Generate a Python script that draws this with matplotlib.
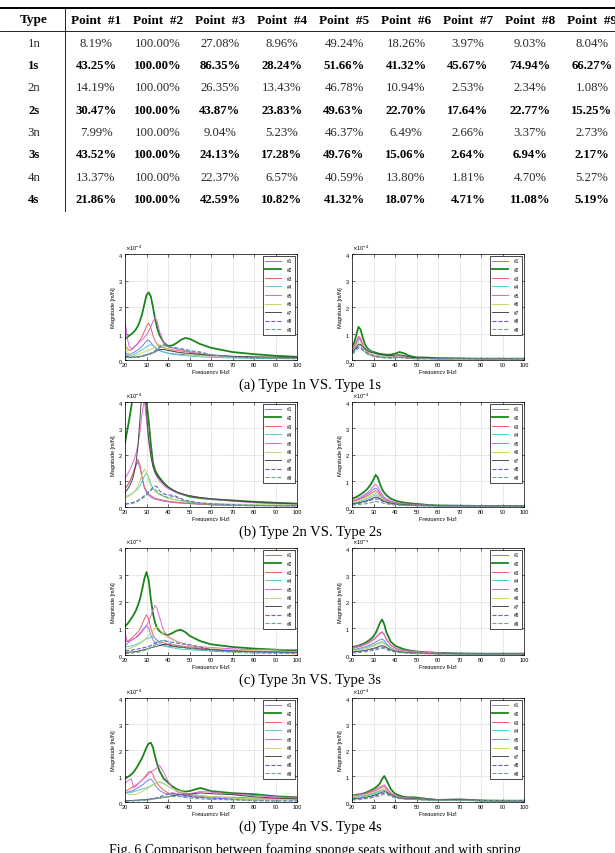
import matplotlib
matplotlib.use("Agg")
import matplotlib.pyplot as plt
from matplotlib.lines import Line2D
from matplotlib.patches import Rectangle
from matplotlib.ticker import ScalarFormatter, MultipleLocator
import numpy as np

W, H = 615, 854

# ---------------- table data ----------------
table_types = ["1n", "1s", "2n", "2s", "3n", "3s", "4n", "4s"]
table_header = ["Type"] + ["Point  #%d" % i for i in range(1, 10)]
table_values = [
    ["8.19%", "100.00%", "27.08%", "8.96%", "49.24%", "18.26%", "3.97%", "9.03%", "8.04%"],
    ["43.25%", "100.00%", "86.35%", "28.24%", "51.66%", "41.32%", "45.67%", "74.94%", "66.27%"],
    ["14.19%", "100.00%", "26.35%", "13.43%", "46.78%", "10.94%", "2.53%", "2.34%", "1.08%"],
    ["30.47%", "100.00%", "43.87%", "23.83%", "49.63%", "22.70%", "17.64%", "22.77%", "15.25%"],
    ["7.99%", "100.00%", "9.04%", "5.23%", "46.37%", "6.49%", "2.66%", "3.37%", "2.73%"],
    ["43.52%", "100.00%", "24.13%", "17.28%", "49.76%", "15.06%", "2.64%", "6.94%", "2.17%"],
    ["13.37%", "100.00%", "22.37%", "6.57%", "40.59%", "13.80%", "1.81%", "4.70%", "5.27%"],
    ["21.86%", "100.00%", "42.59%", "10.82%", "41.32%", "18.07%", "4.71%", "11.08%", "5.19%"],
]

# ---------------- FRF data (magnitude in 1e-4 m/N) ----------------
freq = [20, 21, 22, 23, 24, 25, 26, 27, 28, 29, 30, 31, 32, 33, 34, 35, 36,
        38, 40, 42, 44, 46, 48, 50, 55, 60, 70, 80, 90, 100]

mag_1n = [
    [0.30, 0.22, 0.20, 0.24, 0.28, 0.33, 0.38, 0.45, 0.52, 0.62, 0.72, 0.75, 0.66, 0.55, 0.46, 0.40, 0.36, 0.30, 0.26, 0.24, 0.22, 0.21, 0.20, 0.19, 0.17, 0.15, 0.12, 0.10, 0.09, 0.08],
    [0.80, 0.86, 0.92, 0.98, 1.05, 1.15, 1.28, 1.48, 1.75, 2.10, 2.45, 2.55, 2.40, 2.00, 1.55, 1.20, 0.95, 0.66, 0.53, 0.55, 0.64, 0.76, 0.83, 0.80, 0.60, 0.46, 0.30, 0.22, 0.16, 0.12],
    [0.60, 0.45, 0.36, 0.38, 0.45, 0.54, 0.64, 0.76, 0.90, 1.08, 1.28, 1.40, 1.22, 0.92, 0.72, 0.60, 0.52, 0.46, 0.42, 0.38, 0.36, 0.34, 0.32, 0.30, 0.23, 0.18, 0.13, 0.10, 0.08, 0.06],
    [0.25, 0.18, 0.15, 0.17, 0.20, 0.24, 0.29, 0.34, 0.39, 0.44, 0.50, 0.55, 0.58, 0.55, 0.48, 0.42, 0.38, 0.30, 0.25, 0.22, 0.20, 0.18, 0.16, 0.15, 0.12, 0.10, 0.08, 0.06, 0.05, 0.05],
    [1.55, 0.85, 0.50, 0.42, 0.48, 0.55, 0.62, 0.70, 0.76, 0.85, 0.95, 1.08, 1.25, 1.45, 1.60, 1.45, 1.10, 0.66, 0.50, 0.45, 0.42, 0.38, 0.35, 0.30, 0.22, 0.18, 0.13, 0.10, 0.08, 0.07],
    [0.70, 0.35, 0.20, 0.16, 0.15, 0.17, 0.20, 0.24, 0.28, 0.31, 0.35, 0.37, 0.40, 0.44, 0.50, 0.55, 0.58, 0.50, 0.40, 0.35, 0.30, 0.26, 0.23, 0.20, 0.17, 0.15, 0.12, 0.10, 0.09, 0.08],
    [0.15, 0.13, 0.11, 0.10, 0.10, 0.11, 0.12, 0.13, 0.15, 0.17, 0.19, 0.21, 0.24, 0.27, 0.31, 0.35, 0.39, 0.40, 0.36, 0.33, 0.30, 0.28, 0.26, 0.25, 0.21, 0.18, 0.14, 0.12, 0.11, 0.10],
    [0.10, 0.10, 0.10, 0.11, 0.11, 0.12, 0.12, 0.14, 0.16, 0.18, 0.20, 0.23, 0.26, 0.30, 0.35, 0.42, 0.50, 0.58, 0.50, 0.47, 0.45, 0.42, 0.40, 0.35, 0.30, 0.20, 0.12, 0.08, 0.07, 0.06],
    [0.10, 0.09, 0.09, 0.09, 0.10, 0.10, 0.10, 0.12, 0.13, 0.15, 0.18, 0.20, 0.23, 0.26, 0.30, 0.37, 0.45, 0.55, 0.50, 0.47, 0.45, 0.42, 0.38, 0.35, 0.27, 0.20, 0.10, 0.07, 0.06, 0.05],
]

mag_1s = [
    [0.35, 0.45, 0.60, 0.80, 0.75, 0.55, 0.40, 0.32, 0.26, 0.22, 0.18, 0.16, 0.14, 0.13, 0.12, 0.11, 0.10, 0.10, 0.12, 0.15, 0.12, 0.09, 0.07, 0.05, 0.05, 0.04, 0.04, 0.03, 0.03, 0.03],
    [0.50, 0.65, 0.95, 1.25, 1.15, 0.85, 0.60, 0.46, 0.38, 0.33, 0.30, 0.28, 0.25, 0.23, 0.22, 0.21, 0.20, 0.20, 0.24, 0.30, 0.26, 0.18, 0.13, 0.10, 0.09, 0.07, 0.06, 0.05, 0.05, 0.05],
    [0.40, 0.52, 0.70, 0.90, 0.82, 0.60, 0.42, 0.33, 0.27, 0.22, 0.19, 0.17, 0.15, 0.14, 0.13, 0.12, 0.11, 0.11, 0.13, 0.16, 0.13, 0.10, 0.08, 0.06, 0.07, 0.05, 0.05, 0.04, 0.04, 0.04],
    [0.30, 0.36, 0.45, 0.52, 0.55, 0.50, 0.45, 0.40, 0.35, 0.31, 0.27, 0.24, 0.21, 0.19, 0.17, 0.15, 0.13, 0.11, 0.10, 0.10, 0.09, 0.07, 0.06, 0.05, 0.05, 0.04, 0.04, 0.03, 0.03, 0.03],
    [0.38, 0.50, 0.68, 0.85, 0.78, 0.56, 0.40, 0.30, 0.24, 0.20, 0.17, 0.15, 0.13, 0.12, 0.11, 0.10, 0.10, 0.10, 0.12, 0.14, 0.12, 0.09, 0.07, 0.06, 0.06, 0.05, 0.05, 0.04, 0.04, 0.04],
    [0.33, 0.42, 0.55, 0.70, 0.66, 0.52, 0.40, 0.32, 0.26, 0.22, 0.19, 0.17, 0.15, 0.14, 0.13, 0.12, 0.11, 0.10, 0.10, 0.12, 0.10, 0.08, 0.06, 0.05, 0.05, 0.04, 0.04, 0.03, 0.03, 0.03],
    [0.30, 0.38, 0.48, 0.60, 0.58, 0.50, 0.42, 0.36, 0.32, 0.29, 0.27, 0.25, 0.23, 0.21, 0.20, 0.19, 0.18, 0.17, 0.18, 0.20, 0.17, 0.13, 0.10, 0.08, 0.09, 0.06, 0.06, 0.05, 0.05, 0.05],
    [0.25, 0.32, 0.42, 0.50, 0.48, 0.40, 0.32, 0.26, 0.21, 0.18, 0.15, 0.13, 0.12, 0.11, 0.10, 0.09, 0.09, 0.08, 0.09, 0.10, 0.09, 0.07, 0.06, 0.05, 0.06, 0.05, 0.06, 0.04, 0.04, 0.04],
    [0.22, 0.28, 0.36, 0.45, 0.43, 0.36, 0.29, 0.23, 0.19, 0.16, 0.14, 0.12, 0.11, 0.10, 0.09, 0.08, 0.08, 0.07, 0.08, 0.09, 0.08, 0.06, 0.05, 0.05, 0.05, 0.04, 0.05, 0.04, 0.04, 0.05],
]

mag_2n = [
    [0.70, 0.80, 0.92, 1.10, 1.32, 1.55, 1.72, 1.50, 1.05, 0.72, 0.55, 0.45, 0.38, 0.33, 0.30, 0.28, 0.26, 0.22, 0.20, 0.18, 0.16, 0.15, 0.14, 0.13, 0.10, 0.08, 0.06, 0.05, 0.05, 0.04],
    [2.45, 2.90, 3.35, 3.85, 4.50, 5.40, 6.30, 6.90, 6.40, 5.20, 4.00, 3.30, 2.40, 1.70, 1.40, 1.25, 1.12, 0.92, 0.76, 0.65, 0.56, 0.50, 0.45, 0.40, 0.34, 0.30, 0.25, 0.20, 0.16, 0.13],
    [0.72, 0.82, 0.95, 1.12, 1.35, 1.60, 1.82, 1.60, 1.12, 0.78, 0.60, 0.50, 0.43, 0.38, 0.34, 0.31, 0.29, 0.25, 0.22, 0.20, 0.18, 0.16, 0.15, 0.14, 0.11, 0.09, 0.07, 0.06, 0.05, 0.05],
    [0.40, 0.42, 0.45, 0.50, 0.55, 0.62, 0.70, 0.82, 0.98, 1.18, 1.30, 1.15, 0.90, 0.72, 0.60, 0.53, 0.48, 0.40, 0.34, 0.30, 0.26, 0.23, 0.21, 0.19, 0.15, 0.12, 0.08, 0.07, 0.06, 0.06],
    [1.10, 1.22, 1.38, 1.55, 1.75, 2.00, 2.35, 2.90, 3.60, 4.10, 3.30, 2.50, 1.95, 1.55, 1.30, 1.12, 1.00, 0.82, 0.70, 0.62, 0.56, 0.50, 0.46, 0.43, 0.36, 0.30, 0.22, 0.16, 0.12, 0.10],
    [0.35, 0.38, 0.42, 0.48, 0.56, 0.66, 0.80, 1.00, 1.25, 1.45, 1.30, 1.00, 0.80, 0.68, 0.60, 0.54, 0.50, 0.42, 0.35, 0.30, 0.26, 0.23, 0.21, 0.19, 0.16, 0.14, 0.11, 0.09, 0.08, 0.08],
    [0.55, 0.65, 0.78, 0.95, 1.20, 1.60, 2.30, 3.40, 4.60, 4.80, 3.60, 2.60, 1.95, 1.55, 1.30, 1.18, 1.08, 0.90, 0.76, 0.66, 0.58, 0.52, 0.47, 0.43, 0.36, 0.31, 0.24, 0.19, 0.15, 0.12],
    [0.12, 0.13, 0.14, 0.16, 0.18, 0.21, 0.25, 0.30, 0.36, 0.43, 0.50, 0.58, 0.66, 0.74, 0.80, 0.76, 0.62, 0.50, 0.46, 0.45, 0.40, 0.32, 0.26, 0.22, 0.15, 0.12, 0.08, 0.06, 0.05, 0.05],
    [0.10, 0.11, 0.12, 0.13, 0.15, 0.18, 0.22, 0.27, 0.32, 0.38, 0.45, 0.53, 0.62, 0.70, 0.68, 0.58, 0.50, 0.42, 0.36, 0.40, 0.36, 0.28, 0.22, 0.18, 0.12, 0.09, 0.06, 0.05, 0.05, 0.05],
]

mag_2s = [
    [0.22, 0.24, 0.27, 0.30, 0.34, 0.38, 0.43, 0.48, 0.54, 0.61, 0.68, 0.72, 0.66, 0.52, 0.40, 0.32, 0.27, 0.20, 0.16, 0.13, 0.11, 0.10, 0.09, 0.08, 0.06, 0.05, 0.04, 0.04, 0.03, 0.03],
    [0.32, 0.35, 0.38, 0.43, 0.48, 0.54, 0.60, 0.68, 0.78, 0.90, 1.05, 1.22, 1.12, 0.88, 0.68, 0.54, 0.45, 0.32, 0.25, 0.20, 0.17, 0.15, 0.13, 0.12, 0.08, 0.06, 0.05, 0.04, 0.04, 0.04],
    [0.20, 0.22, 0.24, 0.27, 0.30, 0.34, 0.38, 0.42, 0.47, 0.53, 0.58, 0.62, 0.56, 0.45, 0.35, 0.28, 0.24, 0.18, 0.15, 0.12, 0.10, 0.09, 0.08, 0.07, 0.06, 0.05, 0.04, 0.04, 0.03, 0.03],
    [0.15, 0.16, 0.18, 0.20, 0.22, 0.25, 0.28, 0.31, 0.35, 0.39, 0.43, 0.46, 0.42, 0.34, 0.27, 0.22, 0.19, 0.14, 0.11, 0.09, 0.08, 0.07, 0.06, 0.06, 0.05, 0.04, 0.03, 0.03, 0.03, 0.03],
    [0.25, 0.27, 0.30, 0.34, 0.38, 0.43, 0.48, 0.54, 0.61, 0.70, 0.80, 0.86, 0.78, 0.62, 0.48, 0.38, 0.32, 0.23, 0.18, 0.15, 0.12, 0.11, 0.10, 0.09, 0.07, 0.05, 0.04, 0.04, 0.03, 0.03],
    [0.18, 0.20, 0.22, 0.24, 0.27, 0.30, 0.33, 0.37, 0.41, 0.45, 0.50, 0.52, 0.48, 0.40, 0.32, 0.26, 0.22, 0.16, 0.13, 0.10, 0.09, 0.08, 0.07, 0.06, 0.05, 0.04, 0.04, 0.03, 0.03, 0.03],
    [0.12, 0.13, 0.14, 0.16, 0.18, 0.20, 0.22, 0.25, 0.28, 0.31, 0.35, 0.38, 0.36, 0.31, 0.26, 0.22, 0.19, 0.15, 0.12, 0.10, 0.09, 0.08, 0.07, 0.07, 0.06, 0.05, 0.05, 0.04, 0.04, 0.04],
    [0.10, 0.11, 0.12, 0.13, 0.15, 0.17, 0.19, 0.21, 0.24, 0.27, 0.29, 0.31, 0.30, 0.27, 0.23, 0.19, 0.16, 0.12, 0.10, 0.08, 0.07, 0.06, 0.06, 0.05, 0.05, 0.04, 0.04, 0.03, 0.03, 0.03],
    [0.07, 0.08, 0.08, 0.09, 0.10, 0.11, 0.12, 0.13, 0.15, 0.17, 0.19, 0.21, 0.20, 0.18, 0.16, 0.14, 0.12, 0.10, 0.08, 0.07, 0.06, 0.05, 0.05, 0.05, 0.04, 0.04, 0.03, 0.03, 0.03, 0.03],
]

mag_3n = [
    [0.35, 0.42, 0.50, 0.55, 0.60, 0.65, 0.70, 0.78, 0.88, 1.00, 1.10, 1.00, 0.76, 0.56, 0.46, 0.40, 0.37, 0.34, 0.32, 0.31, 0.30, 0.29, 0.28, 0.27, 0.23, 0.20, 0.15, 0.12, 0.11, 0.10],
    [1.07, 1.15, 1.25, 1.38, 1.50, 1.65, 1.85, 2.10, 2.45, 2.85, 3.10, 2.80, 2.10, 1.55, 1.20, 1.00, 0.90, 0.78, 0.75, 0.82, 0.91, 0.94, 0.86, 0.72, 0.52, 0.40, 0.30, 0.24, 0.20, 0.17],
    [0.50, 0.52, 0.56, 0.62, 0.70, 0.78, 0.86, 0.98, 1.15, 1.35, 1.50, 1.35, 1.00, 0.76, 0.62, 0.55, 0.50, 0.45, 0.40, 0.38, 0.36, 0.34, 0.32, 0.30, 0.26, 0.22, 0.18, 0.15, 0.13, 0.12],
    [0.30, 0.31, 0.32, 0.34, 0.36, 0.39, 0.43, 0.47, 0.51, 0.56, 0.60, 0.63, 0.66, 0.70, 0.62, 0.52, 0.45, 0.36, 0.30, 0.27, 0.24, 0.22, 0.21, 0.20, 0.17, 0.15, 0.12, 0.11, 0.10, 0.10],
    [0.85, 0.50, 0.52, 0.56, 0.60, 0.66, 0.74, 0.82, 0.93, 1.02, 1.10, 1.25, 1.45, 1.70, 1.85, 1.72, 1.42, 0.90, 0.70, 0.60, 0.52, 0.46, 0.41, 0.36, 0.31, 0.28, 0.23, 0.20, 0.20, 0.20],
    [0.20, 0.22, 0.24, 0.27, 0.30, 0.34, 0.38, 0.43, 0.49, 0.56, 0.64, 0.73, 0.83, 0.93, 1.00, 1.05, 0.97, 0.76, 0.65, 0.57, 0.50, 0.45, 0.40, 0.36, 0.30, 0.25, 0.18, 0.15, 0.13, 0.12],
    [0.10, 0.10, 0.11, 0.11, 0.12, 0.13, 0.14, 0.16, 0.18, 0.20, 0.22, 0.24, 0.27, 0.29, 0.31, 0.33, 0.35, 0.40, 0.38, 0.34, 0.31, 0.29, 0.27, 0.25, 0.22, 0.20, 0.15, 0.12, 0.11, 0.10],
    [0.15, 0.16, 0.17, 0.18, 0.20, 0.21, 0.22, 0.24, 0.26, 0.28, 0.30, 0.32, 0.35, 0.40, 0.45, 0.48, 0.50, 0.55, 0.50, 0.48, 0.45, 0.42, 0.40, 0.38, 0.30, 0.20, 0.15, 0.12, 0.10, 0.08],
    [0.05, 0.06, 0.06, 0.07, 0.08, 0.09, 0.10, 0.12, 0.14, 0.17, 0.20, 0.24, 0.28, 0.32, 0.38, 0.44, 0.50, 0.55, 0.46, 0.40, 0.35, 0.31, 0.28, 0.25, 0.20, 0.15, 0.10, 0.07, 0.06, 0.05],
]

mag_3s = [
    [0.20, 0.21, 0.22, 0.24, 0.26, 0.28, 0.30, 0.33, 0.36, 0.40, 0.44, 0.48, 0.52, 0.57, 0.60, 0.54, 0.42, 0.27, 0.20, 0.16, 0.13, 0.11, 0.10, 0.09, 0.07, 0.06, 0.05, 0.04, 0.04, 0.04],
    [0.30, 0.31, 0.33, 0.35, 0.38, 0.41, 0.45, 0.50, 0.55, 0.62, 0.70, 0.82, 1.00, 1.20, 1.33, 1.15, 0.85, 0.50, 0.35, 0.28, 0.22, 0.18, 0.15, 0.13, 0.10, 0.08, 0.06, 0.05, 0.05, 0.05],
    [0.25, 0.26, 0.28, 0.30, 0.32, 0.35, 0.38, 0.42, 0.46, 0.51, 0.57, 0.64, 0.72, 0.80, 0.85, 0.75, 0.58, 0.36, 0.26, 0.20, 0.16, 0.14, 0.12, 0.11, 0.08, 0.07, 0.05, 0.05, 0.04, 0.04],
    [0.18, 0.19, 0.20, 0.21, 0.23, 0.25, 0.27, 0.29, 0.31, 0.34, 0.37, 0.40, 0.43, 0.47, 0.50, 0.46, 0.38, 0.26, 0.19, 0.15, 0.12, 0.10, 0.09, 0.08, 0.06, 0.05, 0.04, 0.04, 0.03, 0.03],
    [0.28, 0.29, 0.31, 0.33, 0.35, 0.38, 0.41, 0.45, 0.49, 0.54, 0.60, 0.66, 0.74, 0.82, 0.87, 0.78, 0.60, 0.37, 0.27, 0.21, 0.17, 0.15, 0.13, 0.12, 0.09, 0.07, 0.05, 0.05, 0.04, 0.04],
    [0.15, 0.16, 0.17, 0.18, 0.20, 0.21, 0.23, 0.25, 0.27, 0.30, 0.33, 0.36, 0.39, 0.42, 0.45, 0.42, 0.35, 0.24, 0.18, 0.14, 0.12, 0.10, 0.09, 0.08, 0.06, 0.05, 0.04, 0.04, 0.03, 0.03],
    [0.12, 0.12, 0.13, 0.14, 0.15, 0.16, 0.17, 0.19, 0.21, 0.23, 0.25, 0.27, 0.30, 0.33, 0.35, 0.33, 0.28, 0.20, 0.15, 0.12, 0.10, 0.09, 0.08, 0.07, 0.06, 0.05, 0.05, 0.04, 0.04, 0.04],
    [0.10, 0.10, 0.11, 0.12, 0.13, 0.14, 0.15, 0.17, 0.18, 0.20, 0.22, 0.24, 0.26, 0.28, 0.30, 0.28, 0.24, 0.17, 0.13, 0.10, 0.09, 0.08, 0.07, 0.06, 0.05, 0.05, 0.04, 0.04, 0.03, 0.03],
    [0.08, 0.08, 0.09, 0.09, 0.10, 0.11, 0.12, 0.13, 0.14, 0.16, 0.17, 0.19, 0.21, 0.23, 0.25, 0.23, 0.20, 0.14, 0.11, 0.09, 0.08, 0.07, 0.06, 0.06, 0.05, 0.04, 0.04, 0.03, 0.03, 0.03],
]

mag_4n = [
    [0.35, 0.37, 0.40, 0.42, 0.45, 0.50, 0.55, 0.60, 0.65, 0.72, 0.80, 0.85, 0.88, 0.80, 0.65, 0.54, 0.45, 0.35, 0.30, 0.27, 0.25, 0.23, 0.21, 0.20, 0.17, 0.15, 0.12, 0.11, 0.10, 0.10],
    [0.90, 0.95, 1.00, 1.07, 1.15, 1.27, 1.40, 1.55, 1.70, 1.90, 2.10, 2.25, 2.28, 2.10, 1.75, 1.45, 1.20, 0.90, 0.75, 0.60, 0.50, 0.42, 0.40, 0.42, 0.54, 0.42, 0.34, 0.30, 0.22, 0.18],
    [0.40, 0.45, 0.50, 0.55, 0.60, 0.65, 0.70, 0.77, 0.85, 0.95, 1.05, 1.15, 1.18, 1.05, 0.85, 0.72, 0.60, 0.45, 0.35, 0.32, 0.30, 0.28, 0.26, 0.25, 0.22, 0.20, 0.18, 0.15, 0.13, 0.12],
    [0.40, 0.37, 0.35, 0.37, 0.40, 0.42, 0.45, 0.48, 0.50, 0.52, 0.55, 0.58, 0.62, 0.66, 0.70, 0.74, 0.78, 0.72, 0.60, 0.52, 0.45, 0.40, 0.35, 0.30, 0.25, 0.20, 0.15, 0.12, 0.10, 0.10],
    [0.70, 0.80, 0.85, 0.88, 0.55, 0.60, 0.70, 0.78, 0.85, 0.92, 1.00, 1.08, 1.15, 1.20, 1.25, 1.33, 1.42, 1.15, 0.80, 0.55, 0.40, 0.35, 0.32, 0.32, 0.40, 0.38, 0.30, 0.25, 0.20, 0.15],
    [0.35, 0.32, 0.30, 0.29, 0.28, 0.30, 0.32, 0.36, 0.40, 0.45, 0.50, 0.55, 0.60, 0.65, 0.70, 0.73, 0.75, 0.70, 0.60, 0.52, 0.45, 0.40, 0.35, 0.30, 0.25, 0.20, 0.15, 0.12, 0.10, 0.10],
    [0.05, 0.05, 0.05, 0.06, 0.06, 0.07, 0.07, 0.08, 0.08, 0.09, 0.10, 0.10, 0.11, 0.12, 0.13, 0.14, 0.15, 0.18, 0.20, 0.24, 0.28, 0.30, 0.30, 0.30, 0.35, 0.32, 0.28, 0.20, 0.15, 0.12],
    [0.05, 0.05, 0.05, 0.05, 0.06, 0.06, 0.06, 0.07, 0.08, 0.09, 0.10, 0.11, 0.12, 0.13, 0.15, 0.17, 0.20, 0.25, 0.30, 0.35, 0.32, 0.28, 0.25, 0.22, 0.18, 0.15, 0.10, 0.05, 0.04, 0.04],
    [0.03, 0.03, 0.04, 0.04, 0.04, 0.04, 0.05, 0.05, 0.05, 0.06, 0.07, 0.08, 0.10, 0.11, 0.12, 0.14, 0.15, 0.18, 0.20, 0.21, 0.22, 0.20, 0.17, 0.15, 0.12, 0.10, 0.08, 0.06, 0.05, 0.05],
]

mag_4s = [
    [0.18, 0.19, 0.20, 0.21, 0.22, 0.24, 0.25, 0.27, 0.29, 0.31, 0.34, 0.37, 0.40, 0.43, 0.47, 0.50, 0.45, 0.30, 0.20, 0.16, 0.13, 0.12, 0.12, 0.11, 0.09, 0.07, 0.07, 0.05, 0.04, 0.04],
    [0.25, 0.26, 0.28, 0.29, 0.30, 0.32, 0.35, 0.38, 0.42, 0.46, 0.50, 0.56, 0.62, 0.72, 0.88, 1.00, 0.85, 0.50, 0.32, 0.25, 0.20, 0.18, 0.18, 0.17, 0.12, 0.08, 0.10, 0.06, 0.05, 0.05],
    [0.22, 0.23, 0.24, 0.25, 0.27, 0.28, 0.30, 0.32, 0.35, 0.38, 0.41, 0.44, 0.48, 0.52, 0.57, 0.60, 0.52, 0.34, 0.24, 0.19, 0.16, 0.15, 0.14, 0.13, 0.10, 0.08, 0.08, 0.06, 0.05, 0.05],
    [0.16, 0.17, 0.18, 0.19, 0.20, 0.21, 0.22, 0.24, 0.26, 0.28, 0.30, 0.33, 0.36, 0.39, 0.42, 0.45, 0.41, 0.28, 0.20, 0.16, 0.13, 0.12, 0.11, 0.10, 0.08, 0.06, 0.06, 0.05, 0.04, 0.04],
    [0.24, 0.25, 0.26, 0.27, 0.29, 0.31, 0.33, 0.35, 0.38, 0.41, 0.45, 0.49, 0.53, 0.57, 0.62, 0.66, 0.56, 0.36, 0.25, 0.20, 0.17, 0.16, 0.15, 0.14, 0.11, 0.08, 0.09, 0.06, 0.05, 0.05],
    [0.20, 0.21, 0.22, 0.23, 0.24, 0.26, 0.27, 0.29, 0.31, 0.34, 0.36, 0.39, 0.42, 0.44, 0.47, 0.48, 0.44, 0.30, 0.21, 0.17, 0.14, 0.13, 0.13, 0.12, 0.09, 0.07, 0.07, 0.05, 0.04, 0.04],
    [0.12, 0.13, 0.13, 0.14, 0.15, 0.16, 0.17, 0.19, 0.21, 0.23, 0.25, 0.28, 0.31, 0.34, 0.37, 0.40, 0.38, 0.28, 0.20, 0.16, 0.14, 0.13, 0.13, 0.12, 0.10, 0.08, 0.09, 0.06, 0.05, 0.05],
    [0.10, 0.10, 0.11, 0.12, 0.12, 0.13, 0.14, 0.16, 0.17, 0.19, 0.21, 0.23, 0.26, 0.28, 0.31, 0.34, 0.33, 0.25, 0.18, 0.15, 0.13, 0.12, 0.11, 0.10, 0.08, 0.06, 0.07, 0.05, 0.04, 0.03],
    [0.08, 0.08, 0.09, 0.09, 0.10, 0.11, 0.12, 0.13, 0.14, 0.16, 0.18, 0.20, 0.22, 0.24, 0.27, 0.30, 0.29, 0.22, 0.16, 0.13, 0.11, 0.10, 0.10, 0.09, 0.07, 0.06, 0.06, 0.05, 0.05, 0.06],
]

panel_rows = [(mag_1n, mag_1s), (mag_2n, mag_2s), (mag_3n, mag_3s), (mag_4n, mag_4s)]
row_captions = ["(a) Type 1n VS. Type 1s", "(b) Type 2n VS. Type 2s",
                "(c) Type 3n VS. Type 3s", "(d) Type 4n VS. Type 4s"]
fig_caption = "Fig. 6 Comparison between foaming sponge seats without and with spring"

point_labels = ["#%d" % i for i in range(1, 10)]
line_colors = ["#7a7af0", "#1a861a", "#f06060", "#50cccc", "#dc64dc",
               "#c8d860", "#4a4a4a", "#5f5fdc", "#68a882"]
line_styles = ["-"] * 7 + ["--", "--"]
line_widths = [0.7, 1.3, 0.7, 0.7, 0.7, 0.7, 0.7, 0.8, 0.8]

SERIF = ["Liberation Serif", "DejaVu Serif"]
SANS = ["Liberation Sans", "DejaVu Sans"]


def px(x, y):
    return x / W, 1 - y / H


def draw_table(fig):
    col_x = [34, 96, 158, 220, 282, 344, 406, 468, 530, 592]
    row_y = [44, 66, 88, 111, 133, 155, 178, 200]
    header_y = 20.5
    for x, txt in zip(col_x, table_header):
        fig.text(*px(x, header_y), txt, family=SERIF, weight="bold", size=9.5,
                 ha="center", va="center")
    for r, (t, vals) in enumerate(zip(table_types, table_values)):
        bold = t.endswith("s")
        kw = dict(family=SERIF, size=9.2, ha="center", va="center",
                  weight="bold" if bold else "normal",
                  color="black" if bold else "#2a2a2a")
        fig.text(*px(col_x[0], row_y[r]), t, **kw)
        for x, v in zip(col_x[1:], vals):
            fig.text(*px(x, row_y[r]), v, **kw)
    fig.add_artist(Line2D([0, 1], [1 - 8.5 / H] * 2, color="black", lw=1.4))
    fig.add_artist(Line2D([0, 1], [1 - 32 / H] * 2, color="black", lw=0.6))
    fig.add_artist(Line2D([65 / W] * 2, [1 - 8.5 / H, 1 - 212 / H], color="black", lw=0.6))


def draw_panel(ax, mags):
    f = np.array(freq)
    for i, m in enumerate(mags):
        ax.plot(f, np.array(m) * 1e-4, color=line_colors[i], ls=line_styles[i],
                lw=line_widths[i], label=point_labels[i])
    ax.set_xlim(20, 100)
    ax.set_ylim(0, 4e-4)
    ax.xaxis.set_major_locator(MultipleLocator(10))
    ax.yaxis.set_major_locator(MultipleLocator(1e-4))
    fmt = ScalarFormatter(useMathText=True)
    fmt.set_powerlimits((0, 0))
    ax.yaxis.set_major_formatter(fmt)
    ax.yaxis.offsetText.set_fontsize(4)
    ax.yaxis.offsetText.set_family(SANS)
    ax.grid(True, ls=":", lw=0.4, color="#9a9a9a")
    ax.tick_params(direction="in", length=2, width=0.4, top=True, right=True,
                   labelsize=4, pad=1.5)
    for lab in ax.get_xticklabels() + ax.get_yticklabels():
        lab.set_family(SANS)
    for s in ax.spines.values():
        s.set_linewidth(0.5)
    ax.set_xlabel("Frequency [Hz]", fontsize=4, family=SANS, labelpad=1.5)
    ax.set_ylabel("Magnitude [m/N]", fontsize=4, family=SANS, labelpad=1.5)
    leg = ax.legend(loc="upper right", fontsize=3.4, handlelength=3.4,
                    labelspacing=0.75, borderpad=0.6, handletextpad=1.2,
                    fancybox=False, edgecolor="black", framealpha=1,
                    borderaxespad=0.35)
    leg.get_frame().set_linewidth(0.5)
    for t in leg.get_texts():
        t.set_family(SANS)


def main():
    fig = plt.figure(figsize=(W / 100, H / 100), dpi=100)
    draw_table(fig)

    row_tops = [255, 403, 549, 699]
    row_bots = [361, 508, 656, 803]
    col_lefts = [125, 352]
    col_width = 172
    for r, (top, bot) in enumerate(zip(row_tops, row_bots)):
        for c, mags in enumerate(panel_rows[r]):
            ax = fig.add_axes([col_lefts[c] / W, 1 - bot / H, col_width / W, (bot - top) / H])
            draw_panel(ax, mags)
        # white band that hides the lower half of the x-labels, as in the scan
        band = Rectangle((0, 1 - (bot + 33) / H), 1, 19 / H, transform=fig.transFigure,
                         facecolor="white", edgecolor="none", zorder=5)
        fig.add_artist(band)
        fig.text(310 / W, 1 - (bot + 24) / H, row_captions[r], family=SERIF, size=10.5,
                 ha="center", va="center", zorder=6)

    fig.text(315 / W, 1 - 850 / H, fig_caption, family=SERIF, size=10,
             ha="center", va="center", zorder=6)

    fig.savefig("out.png", dpi=100)


if __name__ == "__main__":
    main()
